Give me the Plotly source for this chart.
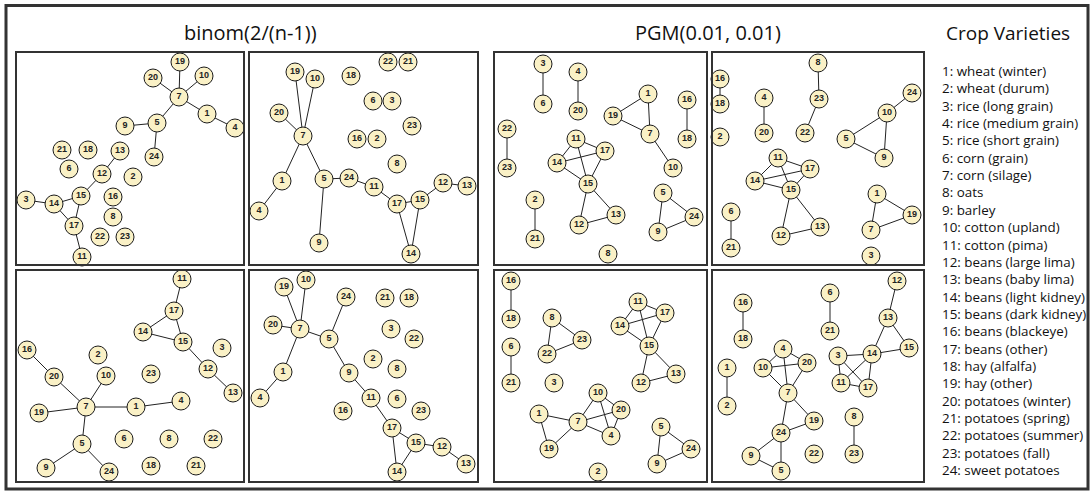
import plotly.graph_objects as go

W, H = 1091, 500

# ---------------- data: node positions (ordered by node id 1..24) and edges ----------------
NODE_IDS = list(range(1, 25))

P1_X = [207, 133, 26, 235, 157, 69, 179, 113, 125, 204, 82, 102, 120, 54, 81, 113, 74, 88, 180, 153, 62, 100, 125, 154]
P1_Y = [114, 177, 200, 128, 123, 169, 97, 217, 126, 76, 257, 174, 151, 204, 196, 197, 226, 150, 62, 78, 150, 237, 237, 157]
P1_EDGES = [(19, 7), (20, 7), (10, 7), (7, 1), (1, 4), (7, 5), (5, 9), (5, 24), (13, 12), (12, 15),
            (15, 14), (14, 3), (14, 17), (15, 17), (17, 11)]

P2_X = [282, 377, 392, 259, 324, 373, 303, 397, 319, 315, 374, 443, 467, 411, 420, 357, 397, 351, 295, 279, 408, 388, 412, 349]
P2_Y = [181, 139, 101, 211, 179, 101, 136, 164, 243, 79, 187, 183, 186, 254, 200, 139, 204, 76, 72, 113, 62, 62, 126, 178]
P2_EDGES = [(19, 7), (10, 7), (20, 7), (7, 1), (1, 4), (7, 5), (5, 24), (5, 9), (24, 11), (11, 17),
            (17, 15), (15, 12), (12, 13), (17, 14), (15, 14)]

P3_X = [648, 535, 543, 578, 663, 543, 650, 608, 658, 673, 576, 579, 616, 557, 588, 687, 605, 687, 613, 578, 535, 507, 507, 694]
P3_Y = [94, 200, 64, 72, 193, 104, 134, 254, 232, 168, 139, 225, 215, 163, 184, 100, 151, 139, 116, 111, 239, 129, 168, 217]
P3_EDGES = [(3, 6), (4, 20), (1, 19), (1, 7), (19, 7), (7, 10), (16, 18), (22, 23), (11, 14), (11, 17),
            (11, 15), (14, 17), (14, 15), (17, 15), (15, 12), (15, 13), (12, 13), (5, 24), (5, 9),
            (9, 24), (2, 21)]

P4_X = [877, 720, 871, 764, 846, 731, 871, 818, 884, 887, 778, 781, 820, 755, 791, 720, 810, 720, 912, 764, 731, 805, 819, 912]
P4_Y = [194, 137, 256, 98, 139, 212, 230, 63, 158, 113, 158, 236, 227, 181, 190, 79, 169, 104, 215, 133, 248, 133, 99, 93]
P4_EDGES = [(16, 18), (4, 20), (8, 23), (23, 22), (24, 10), (10, 5), (10, 9), (5, 9), (11, 14), (11, 17),
            (11, 15), (14, 17), (14, 15), (17, 15), (15, 12), (15, 13), (12, 13), (1, 7), (1, 19),
            (7, 19), (6, 21)]

P5_X = [136, 98, 222, 181, 82, 124, 86, 169, 46, 106, 182, 208, 233, 143, 183, 27, 174, 151, 39, 54, 196, 213, 151, 109]
P5_Y = [407, 355, 348, 401, 444, 439, 407, 439, 468, 376, 279, 369, 393, 332, 342, 350, 311, 466, 413, 377, 466, 439, 374, 472]
P5_EDGES = [(11, 17), (17, 14), (17, 15), (14, 15), (15, 12), (12, 13), (16, 20), (20, 7), (10, 7),
            (19, 7), (7, 1), (1, 4), (7, 5), (5, 9), (5, 24)]

P6_X = [283, 373, 391, 260, 329, 397, 300, 397, 349, 306, 371, 442, 466, 397, 416, 343, 392, 409, 284, 273, 385, 414, 421, 346]
P6_Y = [372, 359, 329, 398, 339, 399, 329, 369, 373, 280, 398, 447, 464, 472, 443, 411, 428, 298, 287, 325, 298, 339, 411, 297]
P6_EDGES = [(19, 7), (10, 7), (20, 7), (7, 5), (7, 1), (1, 4), (5, 24), (5, 9), (9, 11), (11, 17),
            (17, 15), (17, 14), (15, 14), (15, 12), (12, 13)]

P7_X = [539, 598, 554, 611, 661, 511, 578, 552, 657, 598, 638, 641, 676, 620, 649, 511, 665, 511, 549, 621, 511, 547, 582, 691]
P7_Y = [414, 472, 383, 436, 427, 347, 422, 318, 464, 393, 302, 383, 374, 326, 346, 281, 313, 319, 449, 410, 383, 354, 340, 449]
P7_EDGES = [(16, 18), (6, 21), (8, 23), (8, 22), (22, 23), (11, 17), (11, 14), (11, 15), (14, 17),
            (14, 15), (17, 15), (15, 12), (15, 13), (12, 13), (10, 7), (10, 20), (10, 4), (7, 20),
            (7, 4), (20, 4), (1, 7), (1, 19), (7, 19), (5, 24), (5, 9), (9, 24)]

P8_X = [727, 727, 838, 783, 781, 830, 788, 854, 751, 763, 841, 897, 888, 872, 909, 743, 868, 743, 814, 807, 830, 814, 854, 781]
P8_Y = [368, 406, 356, 349, 471, 293, 393, 417, 456, 368, 383, 281, 318, 354, 348, 303, 388, 339, 421, 363, 331, 454, 454, 433]
P8_EDGES = [(12, 13), (13, 14), (13, 15), (14, 15), (6, 21), (16, 18), (4, 10), (4, 7), (4, 20),
            (10, 20), (10, 7), (20, 7), (3, 14), (3, 11), (3, 17), (14, 11), (14, 17), (11, 17),
            (1, 2), (7, 24), (7, 19), (24, 19), (24, 9), (24, 5), (9, 5), (8, 23)]

TITLES = ["binom(2/(n-1))", "PGM(0.01, 0.01)"]
LEGEND_TITLE = "Crop Varieties"
CROP_NAMES = ["wheat (winter)", "wheat (durum)", "rice (long grain)", "rice (medium grain)",
              "rice (short grain)", "corn (grain)", "corn (silage)", "oats", "barley",
              "cotton (upland)", "cotton (pima)", "beans (large lima)", "beans (baby lima)",
              "beans (light kidney)", "beans (dark kidney)", "beans (blackeye)", "beans (other)",
              "hay (alfalfa)", "hay (other)", "potatoes (winter)", "potatoes (spring)",
              "potatoes (summer)", "potatoes (fall)", "sweet potatoes"]

# ---------------- layout (panel boxes in page pixels) ----------------
PANELS = [
    (P1_X, P1_Y, P1_EDGES, (17, 243, 53, 264)),
    (P2_X, P2_Y, P2_EDGES, (250, 477, 53, 264)),
    (P3_X, P3_Y, P3_EDGES, (495, 706, 53, 264)),
    (P4_X, P4_Y, P4_EDGES, (713, 923, 53, 264)),
    (P5_X, P5_Y, P5_EDGES, (17, 243, 271, 481)),
    (P6_X, P6_Y, P6_EDGES, (250, 477, 271, 481)),
    (P7_X, P7_Y, P7_EDGES, (495, 706, 271, 481)),
    (P8_X, P8_Y, P8_EDGES, (713, 923, 271, 481)),
]

NODE_FILL = "#FAF1C6"
LINE_COL = "#222222"
FRAME_COL = "#333333"

fig = go.Figure()
layout_axes = {}

for i, (xs, ys, edges, (l, r, t, b)) in enumerate(PANELS, start=1):
    xa = "x" if i == 1 else f"x{i}"
    ya = "y" if i == 1 else f"y{i}"
    ex, ey = [], []
    for a, c in edges:
        ex += [xs[a - 1], xs[c - 1], None]
        ey += [ys[a - 1], ys[c - 1], None]
    fig.add_trace(go.Scatter(x=ex, y=ey, mode="lines", xaxis=xa, yaxis=ya,
                             line=dict(color=LINE_COL, width=1), hoverinfo="skip",
                             cliponaxis=False, showlegend=False))
    fig.add_trace(go.Scatter(x=xs, y=ys, mode="markers+text", xaxis=xa, yaxis=ya,
                             text=[str(n) for n in NODE_IDS], textposition="middle center",
                             textfont=dict(family="Liberation Sans, Arial", size=9,
                                           color="#222222", weight="bold"),
                             marker=dict(size=18, color=NODE_FILL,
                                         line=dict(color="#1a1a1a", width=1)),
                             cliponaxis=False, showlegend=False))
    axcommon = dict(showline=True, mirror=True, linecolor=FRAME_COL, linewidth=1.5,
                    showticklabels=False, ticks="", showgrid=False, zeroline=False,
                    fixedrange=True)
    layout_axes["xaxis" if i == 1 else f"xaxis{i}"] = dict(
        range=[l, r], domain=[l / W, r / W], anchor=ya, **axcommon)
    layout_axes["yaxis" if i == 1 else f"yaxis{i}"] = dict(
        range=[b, t], domain=[1 - b / H, 1 - t / H], anchor=xa, **axcommon)

annotations = []
title_centers = [250, 708]
for txt, cx in zip(TITLES, title_centers):
    annotations.append(dict(text=txt, x=cx / W, y=1 - 32 / H, xref="paper", yref="paper",
                            showarrow=False, xanchor="center", yanchor="middle",
                            font=dict(family="Open Sans", size=20, color="#111111")))
annotations.append(dict(text=LEGEND_TITLE, x=944 / W, y=1 - 33 / H, xref="paper", yref="paper",
                        showarrow=False, xanchor="left", yanchor="middle",
                        font=dict(family="Open Sans", size=19, color="#111111")))
for k, name in enumerate(CROP_NAMES):
    annotations.append(dict(text=f"{k + 1}: {name}", x=940 / W, y=1 - (71 + 17.35 * k) / H,
                            xref="paper", yref="paper", showarrow=False,
                            xanchor="left", yanchor="middle",
                            font=dict(family="Open Sans", size=13.4, color="#111111")))

shapes = [dict(type="rect", xref="paper", yref="paper",
               x0=6 / W, x1=1088 / W, y0=1 - 489 / H, y1=1 - 5.5 / H,
               line=dict(color=FRAME_COL, width=3), fillcolor="rgba(0,0,0,0)")]

fig.update_layout(width=W, height=H, margin=dict(l=0, r=0, t=0, b=0),
                  paper_bgcolor="white", plot_bgcolor="white", showlegend=False,
                  annotations=annotations, shapes=shapes, **layout_axes)

fig.write_html("out.html", config={"displayModeBar": False},
               post_script="document.body.style.margin='0';document.body.style.overflow='hidden';")
